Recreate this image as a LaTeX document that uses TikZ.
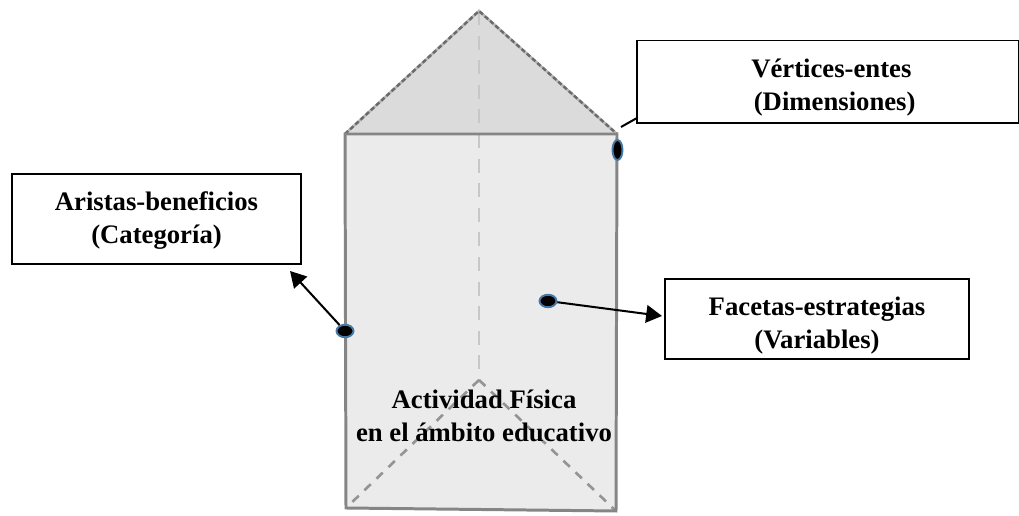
\documentclass[tikz,border=0pt]{standalone}
\usepackage{fontspec}
\setmainfont{Liberation Serif}
\usetikzlibrary{arrows.meta,shapes.geometric}
\tikzset{
  labelbox/.style={draw=black,line width=0.85pt,fill=white,align=center,inner sep=0pt,
    font=\fontsize{15.2}{18.7}\selectfont\bfseries},
  facetext/.style={align=center,inner sep=0pt,font=\fontsize{15.2}{18.8}\selectfont\bfseries},
  spot/.style={ellipse,draw={rgb,255:red,70;green,120;blue,165},line width=1.1pt,fill=black,inner sep=0pt},
  solidedge/.style={draw=black!48,line width=1.7pt},
  slantunder/.style={draw=black!28,line width=1.5pt},
  dashededge/.style={draw=black!58,line width=1.4pt,dash pattern=on 2.5pt off 1.5pt},
  floordash/.style={draw=black!42,line width=1.5pt,dash pattern=on 5pt off 4.5pt},
  hiddenedge/.style={draw=black!22,line width=1.4pt,dash pattern=on 8pt off 6pt},
  pointer/.style={black,line width=1.15pt,-{Triangle[length=9pt,width=10pt]}}
}
\begin{document}
\begin{tikzpicture}[x=0.02cm,y=-0.02cm]
            \useasboundingbox (0,0) rectangle (1019,516);
            % corners of the prism
            \coordinate (apex) at (479,11);
            \coordinate (topleft) at (345,134);
            \coordinate (topright) at (617,134);
            \coordinate (botleft) at (346,508);
            \coordinate (botright) at (616,511);
            \coordinate (backbot) at (479,380);
            % faces
            \fill[black!14] (apex) -- (topleft) -- (topright) -- cycle;
            \fill[black!8] (topleft) -- (topright) -- (botright) -- (botleft) -- cycle;
            % hidden edges
            \draw[hiddenedge] (apex) -- (backbot);
            \draw[floordash] (backbot) -- (botleft);
            \draw[floordash] (backbot) -- (botright);
            % visible edges
            \draw[slantunder] (topleft) -- (apex) -- (topright);
            \draw[dashededge] (topleft) -- (apex) -- (topright);
            \draw[solidedge]
            (botleft)
            -- (topleft)
            -- (topright)
            -- (botright)
            -- cycle
            ;
            % labels
            \node[labelbox,minimum width=7.64cm,minimum height=1.65cm] (vertices) at (828,82)
              {\rule{0pt}{17.3pt}~V\'ertices-entes\\~~(Dimensiones)};
            \node[labelbox,minimum width=5.78cm,minimum height=1.8cm] (aristas) at (156.5,219)
              {\rule{0pt}{12pt}Aristas-beneficios\\(Categor\'ia)};
            \node[labelbox,minimum width=6.08cm,minimum height=1.6cm] (facetas) at (817,319)
              {\rule{0pt}{18.4pt}Facetas-estrategias\\(Variables)};
            \node[facetext] (actividad) at (484,416) {Actividad F\'isica\\en el \'ambito educativo};
            % spots
            \node[spot,minimum width=0.2cm,minimum height=0.4cm] (spotvertex) at (617.5,150) {};
            \node[spot,minimum width=0.34cm,minimum height=0.25cm] (spotedge) at (345,331) {};
            \node[spot,minimum width=0.34cm,minimum height=0.25cm] (spotface) at (548,301) {};
            % pointers
            \coordinate (vertexend) at (621,127);
            \coordinate (vertexstart) at (637,118);
            \coordinate (edgeend) at (290,271);
            \coordinate (faceend) at (662,316);
            \draw[black,line width=1.15pt] (vertexstart) -- (vertexend);
            \draw[pointer] (spotedge) -- (edgeend);
            \draw[pointer] (spotface) -- (faceend);
          \end{tikzpicture}
\end{document}
